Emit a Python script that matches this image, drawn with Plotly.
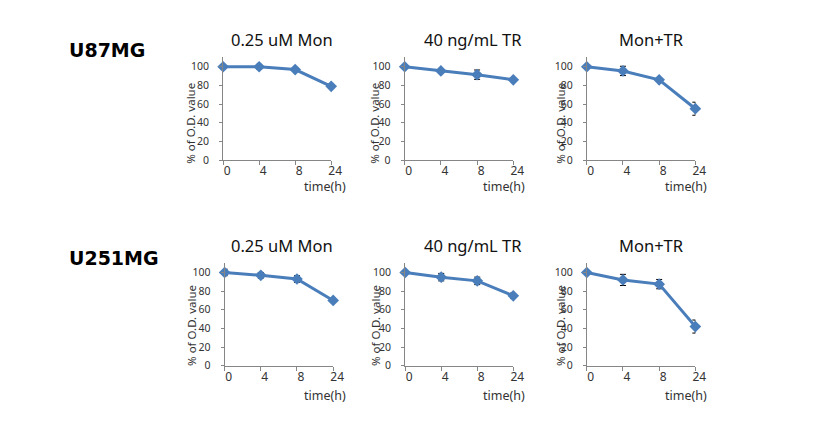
import plotly.graph_objects as go

# empirical page offset of the figure inside the screenshot
OFFX, OFFY = 0, 7
W, H = 837 - OFFX, 445 - OFFY

times = ["0", "4", "8", "24"]
panel_titles = ["0.25 uM Mon", "40 ng/mL TR", "Mon+TR"]
row_labels = ["U87MG", "U251MG"]

u87_mon = [100, 100, 97, 79]
u87_mon_err = [1, 2.5, 1.5, 1.5]
u87_tr = [100, 95.5, 91.5, 86]
u87_tr_err = [1, 1.5, 5, 1.5]
u87_montr = [100, 95.5, 86, 55]
u87_montr_err = [1, 5, 1.5, 7]

u251_mon = [100, 97, 93, 70]
u251_mon_err = [3.5, 3, 3.5, 2]
u251_tr = [100, 95, 91, 75]
u251_tr_err = [1, 4, 4, 3]
u251_montr = [100, 92, 87.5, 42]
u251_montr_err = [1, 6, 5, 7]

rows = [
    [(u87_mon, u87_mon_err), (u87_tr, u87_tr_err), (u87_montr, u87_montr_err)],
    [(u251_mon, u251_mon_err), (u251_tr, u251_tr_err), (u251_montr, u251_montr_err)],
]

# pixel layout (reference pixels)
x_left = [[218, 402, 586.5], [219.5, 402.5, 586.5]]
x_right = [[327.5, 512, 696.5], [329.5, 512, 696.5]]
y_zero = [161.5, 370.5]
y_top = [57.2, 266.3]
title_x = [277.7, 470.7, 651.7]
title_y = [39, 248]
rowlabel_x = 60
rowlabel_y = [50, 261]
ytitle_x = [185, 371.5, 559]
ytitle_cy = [124, 330]
time_x = [321, 503, 687]
time_y = [188.5, 400.5]


def px(x):
    return (x - OFFX) / W


def py(y):
    return 1 - (y - OFFY) / H


BLUE = "#4A7EBB"
AX = "#868686"
FONT = "Noto Sans"

fig = go.Figure()
ann = []
k = 0
for r in range(2):
    for c in range(3):
        k += 1
        vals, errs = rows[r][c]
        xa = "x" if k == 1 else f"x{k}"
        ya = "y" if k == 1 else f"y{k}"
        fig.add_trace(go.Scatter(
            x=times, y=vals, xaxis=xa, yaxis=ya, mode="lines+markers",
            line=dict(color=BLUE, width=3),
            marker=dict(symbol="diamond", size=9, color=BLUE),
            error_y=dict(type="data", array=errs, visible=True,
                         color="#000000", thickness=1, width=3),
            cliponaxis=False, showlegend=False, hoverinfo="skip"))
        xkey = "xaxis" if k == 1 else f"xaxis{k}"
        ykey = "yaxis" if k == 1 else f"yaxis{k}"
        fig.layout[xkey] = dict(
            domain=[px(x_left[r][c]), px(x_right[r][c])], anchor=ya,
            type="category", range=[0, 3], showgrid=False, zeroline=False,
            showline=True, linecolor=AX, linewidth=1,
            ticks="outside", ticklen=4, tickcolor=AX,
            tickfont=dict(family=FONT, size=12, color="#333333"),
            ticklabelshift=4, ticklabelstandoff=-4, fixedrange=True)
        fig.layout[ykey] = dict(
            domain=[py(y_zero[r]), py(y_top[r])], anchor=xa,
            range=[0, 110], tickvals=[0, 20, 40, 60, 80, 100],
            showgrid=False, zeroline=False,
            showline=True, linecolor=AX, linewidth=1,
            ticks="outside", ticklen=3, tickcolor=AX,
            tickfont=dict(family=FONT, size=10.5, color="#333333"),
            ticklabelstandoff=8, fixedrange=True)
        ann.append(dict(text=panel_titles[c], x=px(title_x[c]),
                        y=py(title_y[r]), xref="paper", yref="paper",
                        xanchor="center", yanchor="middle", showarrow=False,
                        font=dict(family=FONT, size=16.5, color="#111111")))
        ann.append(dict(text="% of O.D. value", x=px(ytitle_x[c] + (0 if r == 0 else 1.5)),
                        y=py(ytitle_cy[r]), xref="paper", yref="paper",
                        xanchor="center", yanchor="middle", showarrow=False, textangle=-90,
                        font=dict(family=FONT, size=11.5, color="#333333")))
        ann.append(dict(text="time(h)", x=px(time_x[c]), y=py(time_y[r]),
                        xref="paper", yref="paper", xanchor="center", yanchor="middle",
                        showarrow=False, font=dict(family=FONT, size=12.5, color="#333333")))
    ann.append(dict(text="<b>%s</b>" % row_labels[r], x=px(rowlabel_x), y=py(rowlabel_y[r]),
                    xref="paper", yref="paper", xanchor="left", yanchor="middle",
                    showarrow=False, font=dict(family="DejaVu Sans", size=19, color="#000000")))

fig.update_layout(width=W, height=H, margin=dict(l=0, r=0, t=0, b=0),
                  paper_bgcolor="white", plot_bgcolor="white", annotations=ann)
fig.write_html("out.html", config={"displayModeBar": False})
